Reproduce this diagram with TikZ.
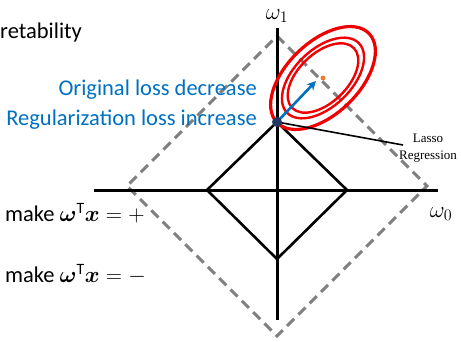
\documentclass[tikz,border=0pt]{standalone}
\usepackage{fix-cm}
\usepackage{amsmath,bm}
\usepackage{fontspec}
\setmainfont{Carlito}
\newfontfamily\serifsmall{Liberation Serif}
\usetikzlibrary{arrows.meta}
\definecolor{offblue}{RGB}{0,112,192}
\definecolor{dotnavy}{RGB}{31,56,100}
\definecolor{dashgray}{RGB}{128,128,128}
\definecolor{lossred}{RGB}{240,0,0}
\definecolor{optorange}{RGB}{237,125,49}
\tikzset{
  axisline/.style={line width=3pt, black},
  diamondline/.style={line width=2.6pt, black, line join=miter},
  dashline/.style={line width=3pt, dashgray, dash pattern=on 10pt off 6pt},
  contour/.style={lossred, line width=2.4pt},
  bluetext/.style={text=offblue, font=\fontsize{22.5}{26}\selectfont, inner sep=0pt},
  blacktext/.style={text=black, font=\fontsize{22.5}{26}\selectfont, inner sep=0pt},
  axislabel/.style={text=black, font=\fontsize{23}{27}\selectfont, inner sep=0pt},
  lassotext/.style={font=\serifsmall\fontsize{13}{14}\selectfont, inner sep=0pt},
}
\begin{document}
\begin{tikzpicture}[x=1pt,y=1pt]
\useasboundingbox (0,0) rectangle (461,341);
% dashed diamond
\coordinate (dT) at (277,305);
\coordinate (dR) at (427,155);
\coordinate (dB) at (277,5);
\coordinate (dL) at (127,155);
\draw[dashline] (dT) -- (dR) -- (dB) -- (dL) -- cycle;
% axes
\coordinate (vtop) at (277,313);
\coordinate (vbot) at (277,21);
\coordinate (hleft) at (94,151);
\coordinate (hright) at (438,151);
\draw[axisline] (vbot) -- (vtop);
\draw[axisline] (hleft) -- (hright);
% small diamond
\coordinate (sT) at (277,219);
\coordinate (sR) at (347,151);
\coordinate (sB) at (277,82);
\coordinate (sL) at (207,151);
\draw[diamondline] (sT) -- (sR) -- (sB) -- (sL) -- cycle;
% contours
\coordinate (c) at (323,263);
\draw[contour, line width=3.2pt] (c) ellipse [x radius=64, y radius=36, rotate=44];
\draw[contour] (c) ellipse [x radius=50, y radius=28.5, rotate=44];
\draw[contour] (c) ellipse [x radius=43, y radius=24.5, rotate=44];
\fill[optorange] (c) circle (2.5);
% lasso pointer
\coordinate (lassoend) at (403,196);
\draw[line width=1.6pt] (sT) -- (lassoend);
% blue arrow
\coordinate (arrowend) at (316,260);
\draw[offblue, line width=2.6pt, -{Stealth[length=9pt,width=9pt]}] (sT) -- (arrowend);
\fill[dotnavy] (sT) circle (5);
% labels
\node[axislabel] (w1) at (277,325) {$\omega_1$};
\node[axislabel] (w0) at (441,127) {$\omega_0$};
\node[lassotext] (lasso) at (428,203) {Lasso};
\node[lassotext] (regr) at (428,184) {Regression};
\node[blacktext, anchor=west] (ret) at (0,308) {retability};
\node[bluetext, anchor=east] (orig) at (257,251) {Original loss decrease};
\node[bluetext, anchor=east] (regu) at (257,221) {Regularization loss increase};
\node[blacktext, anchor=west] (plus) at (5,128) {make $\bm{\omega}^{\mathrm{T}}\bm{x} = +$};
\node[blacktext, anchor=west] (minus) at (5,67) {make $\bm{\omega}^{\mathrm{T}}\bm{x} = -$};
\end{tikzpicture}
\end{document}
